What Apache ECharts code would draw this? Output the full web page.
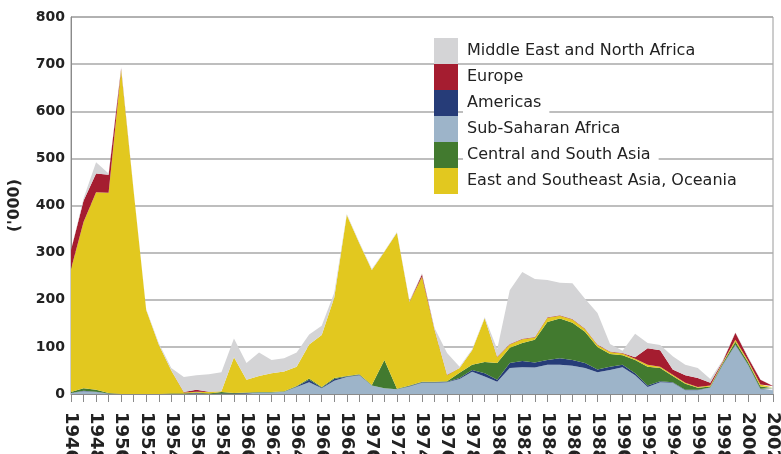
<!DOCTYPE html>
<html><head><meta charset="utf-8">
<script src="https://cdn.jsdelivr.net/npm/echarts@6/dist/echarts.min.js"></script>
<style>html,body{margin:0;padding:0;background:#fff}#c{width:781px;height:454px}</style>
</head><body><div id="c"></div>
<script>
var years = [];
for (var y = 1946; y <= 2002; y++) years.push(String(y));

var subSaharanAfrica = [2,6,4,1,0,0,0,0,0,0,1,0,0,0,1,3,3,5,15,25,12,28,36,40,18,12,10,16,24,24,25,32,47,37,26,55,57,56,62,62,60,55,46,51,57,40,15,25,24,8,8,14,62,104,62,10,8];
var americas = [0,1,1,0,0,0,0,0,0,0,1,0,1,1,1,0,0,0,1,5,1,4,1,1,0,0,0,1,1,1,1,2,4,7,4,11,13,11,10,14,12,11,6,7,5,4,3,2,1,1,1,0,1,1,1,1,1];
var centralSouthAsia = [2,5,4,1,0,0,0,0,1,1,1,1,3,1,1,1,1,1,1,3,2,2,1,1,1,60,1,1,1,1,1,11,11,24,36,32,38,48,81,84,79,66,48,27,20,28,40,28,13,13,4,2,3,6,5,5,3];
var eastSoutheastAsia = [261,353,419,425,688,430,178,105,49,2,2,3,2,76,27,34,40,42,41,72,110,171,342,278,244,230,331,177,223,110,13,10,31,93,12,7,8,5,9,6,7,6,4,4,4,3,4,3,3,2,2,2,2,4,3,4,2];
var europe = [40,45,40,38,2,0,0,0,0,1,4,1,0,0,0,0,0,0,0,0,0,0,0,0,0,0,0,1,5,1,1,0,0,0,1,1,1,1,1,1,1,1,1,1,1,3,35,35,11,16,19,6,2,15,7,10,3];
var middleEastNorthAfrica = [0,5,24,3,4,2,2,3,5,32,31,37,40,40,36,50,28,28,30,21,20,10,2,2,2,1,2,2,2,3,46,3,2,2,16,114,142,123,79,69,76,63,67,16,5,50,11,11,28,22,21,8,2,1,2,1,1];

var yTicks = [0,100,200,300,400,500,600,700,800];

var names = {
  ssa: 'Sub-Saharan Africa',
  am: 'Americas',
  csa: 'Central and South Asia',
  esa: 'East and Southeast Asia, Oceania',
  eu: 'Europe',
  mena: 'Middle East and North Africa'
};
var colors = {
  ssa: '#9db4c9', am: '#263c78', csa: '#427a2f', esa: '#e2c81f', eu: '#a51d30', mena: '#d4d4d6'
};
var FONT = "'DejaVu Sans', 'Liberation Sans', Arial, sans-serif";

function mk(key, data) {
  return {
    name: names[key], type: 'line', stack: 'total', data: data,
    showSymbol: false, symbol: 'none',
    lineStyle: { width: 0 },
    itemStyle: { color: colors[key] },
    areaStyle: { color: colors[key], opacity: 1 },
    emphasis: { disabled: true },
    animation: false
  };
}

var chart = echarts.init(document.getElementById('c'));
chart.setOption({
  animation: false,
  backgroundColor: '#fff',
  grid: { left: 71, right: 8, top: 17, bottom: 60, containLabel: false, outerBoundsMode: 'none',
    show: true, borderColor: '#9a9a9a', borderWidth: 1, backgroundColor: 'transparent' },
  legend: {
    orient: 'vertical', left: 434, top: 38, padding: 0,
    itemWidth: 24, itemHeight: 26, itemGap: 0,
    icon: 'rect',
    data: [names.mena, names.eu, names.am, names.ssa, names.csa, names.esa],
    textStyle: { fontFamily: FONT, fontSize: 16, color: '#222', backgroundColor: '#fff', padding: [4, 8, 4, 4] },
    selectedMode: false
  },
  xAxis: {
    type: 'category', data: years, boundaryGap: false,
    axisLine: { show: true, lineStyle: { color: '#8a8a8a', width: 1 } },
    axisTick: { show: true, interval: 0, length: 8, lineStyle: { color: '#8a8a8a' } },
    axisLabel: { interval: 1, rotate: -90, margin: 18, fontFamily: FONT, fontWeight: 'bold', fontSize: 18, color: '#222', hideOverlap: false },
    splitLine: { show: false }
  },
  yAxis: {
    type: 'value', min: 0, max: 800, interval: 100,
    name: "('000)", nameLocation: 'middle', nameRotate: 90, nameGap: 48,
    nameTextStyle: { fontFamily: FONT, fontWeight: 'bold', fontSize: 16, color: '#222' },
    axisLine: { show: true, lineStyle: { color: '#8a8a8a' } },
    axisTick: { show: false },
    axisLabel: { margin: 6, fontFamily: FONT, fontWeight: 'bold', fontSize: 14, color: '#222',
      formatter: function (v) { return yTicks.indexOf(v) >= 0 ? String(v) : ''; } },
    splitLine: { show: true, lineStyle: { color: '#a8a8a8', width: 1.5 } }
  },
  series: [
    mk('ssa', subSaharanAfrica),
    mk('am', americas),
    mk('csa', centralSouthAsia),
    mk('esa', eastSoutheastAsia),
    mk('eu', europe),
    mk('mena', middleEastNorthAfrica)
  ]
});
</script></body></html>
